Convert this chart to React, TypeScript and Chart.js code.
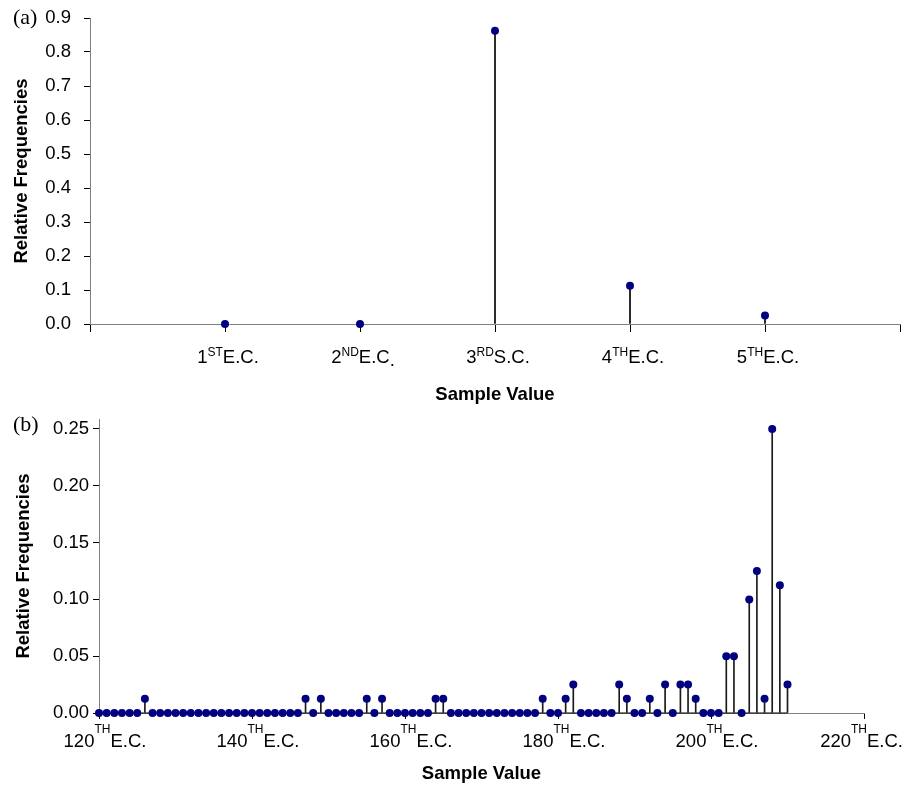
import React, { useEffect, useRef } from 'react';
import { Chart, registerables } from 'chart.js';

Chart.register(...registerables);

// ---------- Panel (a) data ----------
const topPositions = [1, 2, 3, 4, 5];
const topValues = [0, 0, 0.8625, 0.1125, 0.025];
const topNums = ['1', '2', '3', '4', '5'];
const topSups = ['ST', 'ND', 'RD', 'TH', 'TH'];
const topRests = ['E.C.', 'E.C', 'S.C.', 'E.C.', 'E.C.'];
const topSubs = ['', '.', '', '', ''];
const topXTicks = [0, 1, 2, 3, 4, 5, 6];
const topYTicks = [0, 0.1, 0.2, 0.3, 0.4, 0.5, 0.6, 0.7, 0.8, 0.9];

// ---------- Panel (b) data ----------
const bottomSamples = [
  120, 121, 122, 123, 124, 125, 126, 127, 128, 129,
  130, 131, 132, 133, 134, 135, 136, 137, 138, 139,
  140, 141, 142, 143, 144, 145, 146, 147, 148, 149,
  150, 151, 152, 153, 154, 155, 156, 157, 158, 159,
  160, 161, 162, 163, 164, 165, 166, 167, 168, 169,
  170, 171, 172, 173, 174, 175, 176, 177, 178, 179,
  180, 181, 182, 183, 184, 185, 186, 187, 188, 189,
  190, 191, 192, 193, 194, 195, 196, 197, 198, 199,
  200, 201, 202, 203, 204, 205, 206, 207, 208, 209,
  210,
];
const bottomValues = [
  0, 0, 0, 0, 0, 0, 0.0125, 0, 0, 0,
  0, 0, 0, 0, 0, 0, 0, 0, 0, 0,
  0, 0, 0, 0, 0, 0, 0, 0.0125, 0, 0.0125,
  0, 0, 0, 0, 0, 0.0125, 0, 0.0125, 0, 0,
  0, 0, 0, 0, 0.0125, 0.0125, 0, 0, 0, 0,
  0, 0, 0, 0, 0, 0, 0, 0, 0.0125, 0,
  0, 0.0125, 0.025, 0, 0, 0, 0, 0, 0.025, 0.0125,
  0, 0, 0.0125, 0, 0.025, 0, 0.025, 0.025, 0.0125, 0,
  0, 0, 0.05, 0.05, 0, 0.1, 0.125, 0.0125, 0.25, 0.1125,
  0.025,
];
const bottomXTicks = [120, 140, 160, 180, 200, 220];
const bottomNums = ['120', '140', '160', '180', '200', '220'];
const bottomSups = ['TH', 'TH', 'TH', 'TH', 'TH', 'TH'];
const bottomRests = ['E.C.', 'E.C.', 'E.C.', 'E.C.', 'E.C.', 'E.C.'];
const bottomSubs = ['', '', '', '', '', ''];
const bottomYTicks = [0, 0.05, 0.1, 0.15, 0.2, 0.25];

const SANS = '"Liberation Sans", Arial, sans-serif';
const SERIF = '"Liberation Serif", "Times New Roman", serif';
const DOT = '#000080';

type LabelOpts = {
  id: string;
  positions: number[];
  nums: string[];
  sups: string[];
  rests: string[];
  subs: string[];
  baseline: number;
  supRise: number;
  supSize: number;
  mainSize: number;
  shift: number;
  panel: string;
  panelBaseline: number;
};

function labelPlugin(o: LabelOpts) {
  return {
    id: o.id,
    afterDraw(chart: any) {
      const ctx: CanvasRenderingContext2D = chart.ctx;
      const xs = chart.scales.x;
      const yBase = chart.chartArea.bottom + o.baseline;
      ctx.save();
      ctx.fillStyle = '#000';
      ctx.textBaseline = 'alphabetic';
      ctx.textAlign = 'left';
      const mainFont = `${o.mainSize}px ${SANS}`;
      const supFont = `${o.supSize}px ${SANS}`;
      o.positions.forEach((p, i) => {
        ctx.font = mainFont;
        const wNum = ctx.measureText(o.nums[i]).width;
        const wRest = ctx.measureText(o.rests[i]).width;
        const wSub = o.subs[i] ? ctx.measureText(o.subs[i]).width : 0;
        ctx.font = supFont;
        const wSup = ctx.measureText(o.sups[i]).width;
        const total = wNum + wSup + wRest + wSub;
        let x = xs.getPixelForValue(p) - total / 2 + o.shift;
        if (x + total > chart.width - 1) x = chart.width - 1 - total;
        ctx.font = mainFont;
        ctx.fillText(o.nums[i], x, yBase);
        x += wNum;
        ctx.font = supFont;
        ctx.fillText(o.sups[i], x, yBase - o.supRise);
        x += wSup;
        ctx.font = mainFont;
        ctx.fillText(o.rests[i], x, yBase);
        x += wRest;
        if (o.subs[i]) ctx.fillText(o.subs[i], x, yBase + 3);
      });
      ctx.font = `22px ${SERIF}`;
      ctx.fillText(o.panel, 13, o.panelBaseline);
      ctx.restore();
    },
  };
}

function makeTopConfig(): any {
  return {
    type: 'scatter',
    data: {
      datasets: [
        {
          type: 'scatter',
          data: topPositions.map((x, i) => ({ x, y: topValues[i] })),
          backgroundColor: DOT,
          borderColor: DOT,
          pointRadius: 4,
          pointHoverRadius: 4,
          borderWidth: 0,
          order: 0,
          clip: false,
        },
        {
          type: 'bar',
          data: topPositions.map((x, i) => ({ x, y: topValues[i] })),
          backgroundColor: '#000',
          borderWidth: 0,
          barThickness: 1,
          order: 1,
          clip: false,
        },
      ],
    },
    options: {
      animation: false,
      responsive: false,
      devicePixelRatio: 1,
      layout: { padding: { top: 18, right: 3, left: 0, bottom: 0 } },
      plugins: { legend: { display: false }, tooltip: { enabled: false } },
      scales: {
        x: {
          type: 'linear',
          min: 0,
          max: 6,
          offset: false,
          afterBuildTicks: (axis: any) => {
            axis.ticks = topXTicks.map((v) => ({ value: v }));
          },
          afterFit: (axis: any) => {
            axis.height = 86;
            axis.paddingLeft = 0;
            axis.paddingRight = 0;
          },
          ticks: { display: false },
          grid: { drawOnChartArea: false, offset: false, tickLength: 8, tickColor: '#000' },
          border: { color: '#808080', width: 1 },
          title: {
            display: true,
            text: 'Sample Value',
            color: '#000',
            font: { family: SANS, size: 18.5, weight: 'bold' },
            padding: { top: 0, bottom: 4 },
          },
        },
        y: {
          type: 'linear',
          min: 0,
          max: 0.9,
          afterBuildTicks: (axis: any) => {
            axis.ticks = topYTicks.map((v) => ({ value: v }));
          },
          afterFit: (axis: any) => {
            axis.width = 90;
            axis.paddingTop = 0;
            axis.paddingBottom = 0;
          },
          ticks: {
            color: '#000',
            padding: 13,
            font: { family: SANS, size: 18.5 },
            callback: (v: any) => Number(v).toFixed(1),
          },
          grid: { drawOnChartArea: false, tickLength: 6, tickColor: '#000' },
          border: { color: '#808080', width: 1 },
          title: {
            display: true,
            text: 'Relative Frequencies',
            color: '#000',
            font: { family: SANS, size: 18.5, weight: 'bold' },
            padding: { top: 11, bottom: 0 },
          },
        },
      },
    },
    plugins: [
      labelPlugin({
        id: 'topLabels',
        positions: topPositions,
        nums: topNums,
        sups: topSups,
        rests: topRests,
        subs: topSubs,
        baseline: 39,
        supRise: 7,
        supSize: 12,
        mainSize: 18.5,
        shift: 3,
        panel: '(a)',
        panelBaseline: 24,
      }),
    ],
  };
}

function makeBottomConfig(): any {
  return {
    type: 'scatter',
    data: {
      datasets: [
        {
          type: 'scatter',
          data: bottomSamples.map((x, i) => ({ x, y: bottomValues[i] })),
          backgroundColor: DOT,
          borderColor: DOT,
          pointRadius: 4,
          pointHoverRadius: 4,
          borderWidth: 0,
          order: 0,
          clip: false,
        },
        {
          type: 'bar',
          data: bottomSamples.map((x, i) => ({ x, y: bottomValues[i] })),
          backgroundColor: '#1a1a1a',
          borderWidth: 0,
          barThickness: 1,
          order: 1,
          clip: false,
        },
        {
          type: 'line',
          data: [
            { x: bottomSamples[0], y: 0 },
            { x: bottomSamples[bottomSamples.length - 1], y: 0 },
          ],
          borderColor: '#000',
          borderWidth: 1,
          pointRadius: 0,
          order: 2,
          clip: false,
        },
      ],
    },
    options: {
      animation: false,
      responsive: false,
      devicePixelRatio: 1,
      layout: { padding: { top: 9, right: 40, left: 0, bottom: 0 } },
      plugins: { legend: { display: false }, tooltip: { enabled: false } },
      scales: {
        x: {
          type: 'linear',
          min: 120,
          max: 220,
          offset: false,
          afterBuildTicks: (axis: any) => {
            axis.ticks = bottomXTicks.map((v) => ({ value: v }));
          },
          afterFit: (axis: any) => {
            axis.height = 79;
            axis.paddingLeft = 0;
            axis.paddingRight = 0;
          },
          ticks: { display: false },
          grid: { drawOnChartArea: false, offset: false, tickLength: 6, tickColor: '#000' },
          border: { color: '#808080', width: 1 },
          title: {
            display: true,
            text: 'Sample Value',
            color: '#000',
            font: { family: SANS, size: 18.5, weight: 'bold' },
            padding: { top: 0, bottom: 7 },
          },
        },
        y: {
          type: 'linear',
          min: 0,
          max: 0.2588,
          afterBuildTicks: (axis: any) => {
            axis.ticks = bottomYTicks.map((v) => ({ value: v }));
          },
          afterFit: (axis: any) => {
            axis.width = 99;
            axis.paddingTop = 0;
            axis.paddingBottom = 0;
          },
          ticks: {
            color: '#000',
            padding: 4,
            font: { family: SANS, size: 18.5 },
            callback: (v: any) => Number(v).toFixed(2),
          },
          grid: { drawOnChartArea: false, tickLength: 6, tickColor: '#000' },
          border: { color: '#808080', width: 1 },
          title: {
            display: true,
            text: 'Relative Frequencies',
            color: '#000',
            font: { family: SANS, size: 18.5, weight: 'bold' },
            padding: { top: 13, bottom: 0 },
          },
        },
      },
    },
    plugins: [
      labelPlugin({
        id: 'bottomLabels',
        positions: bottomXTicks,
        nums: bottomNums,
        sups: bottomSups,
        rests: bottomRests,
        subs: bottomSubs,
        baseline: 34,
        supRise: 14,
        supSize: 12,
        mainSize: 18.5,
        shift: 6,
        panel: '(b)',
        panelBaseline: 21,
      }),
    ],
  };
}

function ChartCanvas(props: { top: number; width: number; height: number; make: () => any }) {
  const ref = useRef<HTMLCanvasElement>(null);
  useEffect(() => {
    const chart = new Chart(ref.current as HTMLCanvasElement, props.make());
    return () => chart.destroy();
  }, []);
  return (
    <canvas
      ref={ref}
      width={props.width}
      height={props.height}
      style={{
        position: 'absolute',
        left: 0,
        top: props.top,
        width: props.width,
        height: props.height,
        display: 'block',
      }}
    />
  );
}

export default function App() {
  return (
    <div
      style={{
        position: 'absolute',
        left: 0,
        top: 0,
        width: 904,
        height: 792,
        background: '#fff',
        overflow: 'hidden',
      }}
    >
      <ChartCanvas top={0} width={904} height={410} make={makeTopConfig} />
      <ChartCanvas top={410} width={904} height={382} make={makeBottomConfig} />
    </div>
  );
}
